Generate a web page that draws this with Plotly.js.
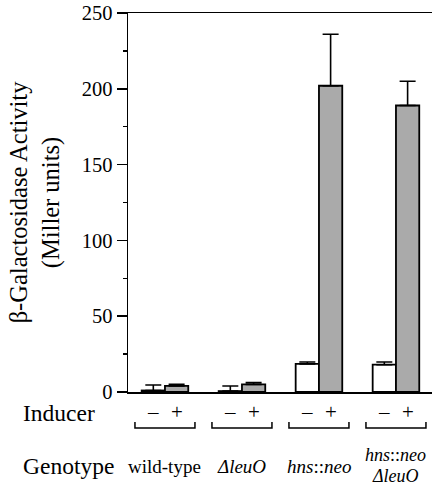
<!DOCTYPE html>
<html>
<head>
<meta charset="utf-8">
<script src="https://cdn.plot.ly/plotly-3.0.1.min.js"></script>
<style>html,body{margin:0;padding:0;background:#fff;}#chart{width:432px;height:486px;}</style>
</head>
<body>
<div id="chart"></div>
<script>
// Data
const genotypes = ["wild-type", "ΔleuO", "hns::neo", "hns::neo ΔleuO"];
const genotypeLabels = ["wild-type", "<i>ΔleuO</i>", "<i>hns</i>::<i>neo</i>", "<i>hns</i>::<i>neo</i><br><i>ΔleuO</i>"];
const minusValues = [1, 0.6, 18.5, 18];
const minusErrors = [3.6, 3.4, 1.3, 1.8];
const plusValues = [4, 5, 202, 189];
const plusErrors = [1, 1.3, 34, 16];
const inducerLabels = ["–", "+"];
const yTicks = [0, 50, 100, 150, 200, 250];

const FONT = "Liberation Serif";
const zeros = genotypes.map(() => 0);

const traces = [
  {
    type: "bar", x: genotypes, y: minusValues, name: "–",
    marker: {color: "#ffffff", line: {color: "#000", width: 1.8}},
    error_y: {type: "data", symmetric: false, array: minusErrors, arrayminus: zeros,
              color: "#000", thickness: 1.6, width: 8}
  },
  {
    type: "bar", x: genotypes, y: plusValues, name: "+",
    marker: {color: "#aaaaaa", line: {color: "#000", width: 1.8}},
    error_y: {type: "data", symmetric: false, array: plusErrors, arrayminus: zeros,
              color: "#000", thickness: 1.6, width: 8}
  }
];

const W = 304, H = 379; // plot area size in px
const px2x = p => (p - 128) / W;
const py2y = p => (392 - p) / H;

const annotations = [];
const shapes = [];
const off = 11.7 / 77; // half bar width in category units
const txt = (x, y, text, size, xref, xanchor) => ({
  xref: xref || "x", yref: "paper", x: x, y: y, text: text, showarrow: false,
  font: {family: FONT, size: size, color: "#000"}, xanchor: xanchor || "center", yanchor: "middle"
});
genotypes.forEach((g, i) => {
  annotations.push(txt(i - off, py2y(412), inducerLabels[0], 21));
  annotations.push(txt(i + off, py2y(412), inducerLabels[1], 21));
  const lines = genotypeLabels[i].split("<br>");
  if (lines.length === 1) {
    annotations.push(txt(i, py2y(466), lines[0], 19));
  } else {
    annotations.push(txt(i, py2y(455), lines[0], 18));
    annotations.push(txt(i, py2y(476), lines[1], 18));
  }
  const a = i - 30 / 77, b = i + 30 / 77;
  shapes.push({type: "path", xref: "x", yref: "paper",
    path: `M ${a} ${py2y(422)} L ${a} ${py2y(428)} L ${b} ${py2y(428)} L ${b} ${py2y(422)}`,
    line: {color: "#000", width: 1.5}});
});
annotations.push(txt(px2x(21), py2y(413), "Inducer", 23.5, "paper", "left"));
annotations.push(txt(px2x(21), py2y(466), "Genotype", 23.5, "paper", "left"));

const layout = {
  width: 432, height: 486,
  margin: {l: 128, r: 0, t: 13, b: 94},
  paper_bgcolor: "#fff", plot_bgcolor: "#fff",
  showlegend: false,
  barmode: "group", bargap: 0.395, bargroupgap: 0,
  font: {family: FONT, color: "#000"},
  xaxis: {
    type: "category", range: [-0.48, 3.468], showticklabels: false, ticks: "",
    showline: true, mirror: true, linecolor: "#000", linewidth: 1.5,
    showgrid: false, zeroline: false, fixedrange: true
  },
  yaxis: {
    range: [0, 250], tickvals: yTicks, ticks: "outside", ticklen: 10, tickwidth: 1.5, tickcolor: "#000",
    minor: {dtick: 25, tick0: 0, ticks: "outside", ticklen: 4, tickwidth: 1.5, tickcolor: "#000", showgrid: false},
    showline: true, linecolor: "#000", linewidth: 1.5, showgrid: false, zeroline: false,
    tickfont: {family: FONT, size: 20.5, color: "#000"},
    title: {text: "β-Galactosidase Activity<br>(Miller units)", font: {family: FONT, size: 24.5, color: "#000"}, standoff: 15},
    fixedrange: true
  },
  annotations: annotations,
  shapes: shapes
};

Plotly.newPlot("chart", traces, layout, {displayModeBar: false, staticPlot: true});
</script>
</body>
</html>
